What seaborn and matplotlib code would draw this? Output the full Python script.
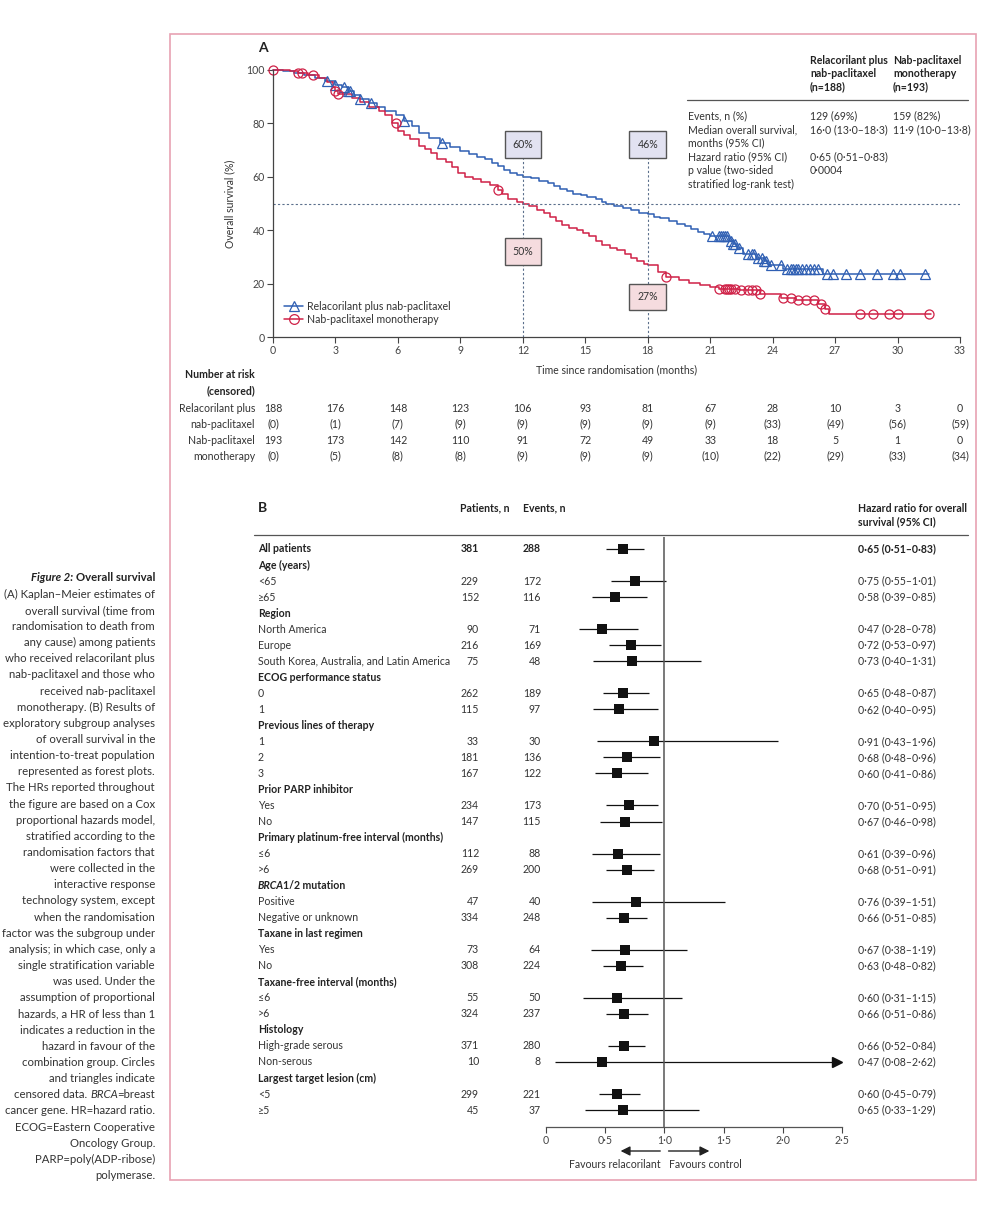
import numpy as np
import pandas as pd
import matplotlib
matplotlib.use("Agg")
import matplotlib.pyplot as plt
import matplotlib.transforms as mtransforms
from matplotlib.lines import Line2D
from matplotlib.patches import Rectangle
import seaborn as sns

# ---------------- Panel A: Kaplan-Meier ----------------
rel_t = [0, 0.5, 1.0, 1.5, 2.0, 2.5, 3.0, 3.3, 3.6, 3.9, 4.2, 4.6, 5.0, 5.4, 5.9, 6.3,
         6.7, 7.0, 7.5, 8.0, 8.5, 9.0, 9.4, 9.8, 10.2, 10.5, 10.8, 11.1, 11.4, 11.7, 12.0,
         12.4, 12.8, 13.2, 13.5, 13.8, 14.1, 14.4, 14.8, 15.1, 15.5, 15.8, 16.0, 16.4,
         16.8, 17.2, 17.6, 18.0, 18.3, 18.6, 19.0, 19.4, 19.8, 20.1, 20.4, 20.7, 21.0,
         21.9, 22.1, 22.3, 22.6, 23.2, 23.6, 23.8, 24.5, 26.4, 31.5]
rel_s = [100, 99.5, 99, 98, 97, 96, 94.5, 93.5, 92, 90.5, 89, 87.5, 86, 84.5, 83, 81,
         79, 76.5, 74.5, 72.5, 71, 69.5, 68.5, 67.5, 66.5, 65, 64, 62.5, 61.5, 60.5, 60,
         59.5, 58.5, 57.5, 56.5, 55.5, 54.5, 53.5, 53, 52.5, 51.5, 50.5, 50, 49,
         48.5, 47.5, 46.5, 46, 45, 44.5, 43.5, 42.5, 41.5, 40.5, 39.5, 38.5, 38,
         36, 35, 33.5, 31, 29.5, 28.5, 27, 25.6, 23.75, 23.75]
rel_cens = [2.6, 3.0, 3.4, 3.6, 3.7, 4.2, 4.7, 6.3, 8.1, 21.1, 21.4, 21.5, 21.6, 21.7,
            21.8, 22.0, 22.1, 22.2, 22.4, 22.8, 23.0, 23.1, 23.3, 23.5, 23.6, 23.7, 23.9,
            24.4, 24.7, 24.9, 25.0, 25.1, 25.2, 25.4, 25.6, 25.8, 26.0, 26.2, 26.6, 26.9,
            27.5, 28.2, 29.0, 29.8, 30.1, 31.3]

nab_t = [0, 0.8, 1.2, 1.7, 2.2, 2.6, 2.9, 3.0, 3.1, 3.8, 4.2, 4.6, 5.1, 5.4, 5.7, 6.0,
         6.3, 6.6, 7.0, 7.3, 7.6, 7.9, 8.3, 8.6, 8.9, 9.2, 9.6, 10.0, 10.4, 10.8, 11.0,
         11.3, 11.7, 12.0, 12.3, 12.7, 13.0, 13.3, 13.6, 13.9, 14.2, 14.6, 14.9, 15.2,
         15.5, 15.8, 16.2, 16.5, 16.9, 17.2, 17.5, 17.8, 18.0, 18.5, 18.9, 19.5, 20.0,
         20.5, 21.0, 21.4, 22.4, 23.4, 24.4, 25.1, 26.2, 26.5, 26.7, 31.6]
nab_s = [100, 99.5, 99, 98, 97, 95.5, 93.5, 92, 91, 89.5, 88, 86, 84.5, 83, 80, 77,
         75.5, 74, 71.5, 70.5, 69, 66.5, 65.5, 63.5, 61.5, 60, 59, 58, 57, 55, 53.5,
         51.5, 50.5, 50, 49, 47.5, 46.5, 45, 43.5, 42, 41, 40, 39, 38,
         36, 34.5, 33.5, 32.5, 31, 29.5, 28.5, 27.5, 27, 24.5, 22.5, 21.3, 20.3,
         19.5, 18.6, 18.1, 17.5, 16.25, 14.6, 13.75, 12.25, 10.6, 8.75, 8.75]
nab_cens = [0.0, 1.2, 1.4, 1.9, 3.0, 3.1, 5.9, 10.8, 18.9, 21.4, 21.7, 21.8, 21.9, 22.0,
            22.2, 22.5, 22.8, 23.0, 23.2, 23.4, 24.5, 24.9, 25.2, 25.6, 26.0, 26.3, 26.5,
            28.2, 28.8, 29.6, 30.0, 31.5]

risk_months = [0, 3, 6, 9, 12, 15, 18, 21, 24, 27, 30, 33]
rel_at_risk = [188, 176, 148, 123, 106, 93, 81, 67, 28, 10, 3, 0]
rel_censored = [0, 1, 7, 9, 9, 9, 9, 9, 33, 49, 56, 59]
nab_at_risk = [193, 173, 142, 110, 91, 72, 49, 33, 18, 5, 1, 0]
nab_censored = [0, 5, 8, 8, 9, 9, 9, 10, 22, 29, 33, 34]

landmark_months = [12, 18]
landmark_rel = [60, 46]
landmark_nab = [50, 27]

# ---------------- Panel B: forest plot ----------------
forest_labels = ["All patients", "Age (years)", "<65", "≥65", "Region", "North America", "Europe",
                 "South Korea, Australia, and Latin America", "ECOG performance status", "0", "1",
                 "Previous lines of therapy", "1", "2", "3", "Prior PARP inhibitor", "Yes", "No",
                 "Primary platinum-free interval (months)", "≤6", ">6", "BRCA1/2 mutation",
                 "Positive", "Negative or unknown", "Taxane in last regimen", "Yes", "No",
                 "Taxane-free interval (months)", "≤6", ">6", "Histology", "High-grade serous",
                 "Non-serous", "Largest target lesion (cm)", "<5", "≥5"]
forest_patients = [381, None, 229, 152, None, 90, 216, 75, None, 262, 115, None, 33, 181, 167,
                   None, 234, 147, None, 112, 269, None, 47, 334, None, 73, 308, None, 55, 324,
                   None, 371, 10, None, 299, 45]
forest_events = [288, None, 172, 116, None, 71, 169, 48, None, 189, 97, None, 30, 136, 122,
                 None, 173, 115, None, 88, 200, None, 40, 248, None, 64, 224, None, 50, 237,
                 None, 280, 8, None, 221, 37]
forest_hr = [0.65, None, 0.75, 0.58, None, 0.47, 0.72, 0.73, None, 0.65, 0.62, None, 0.91, 0.68,
             0.60, None, 0.70, 0.67, None, 0.61, 0.68, None, 0.76, 0.66, None, 0.67, 0.63, None,
             0.60, 0.66, None, 0.66, 0.47, None, 0.60, 0.65]
forest_lo = [0.51, None, 0.55, 0.39, None, 0.28, 0.53, 0.40, None, 0.48, 0.40, None, 0.43, 0.48,
             0.41, None, 0.51, 0.46, None, 0.39, 0.51, None, 0.39, 0.51, None, 0.38, 0.48, None,
             0.31, 0.51, None, 0.52, 0.08, None, 0.45, 0.33]
forest_hi = [0.83, None, 1.01, 0.85, None, 0.78, 0.97, 1.31, None, 0.87, 0.95, None, 1.96, 0.96,
             0.86, None, 0.95, 0.98, None, 0.96, 0.91, None, 1.51, 0.85, None, 1.19, 0.82, None,
             1.15, 0.86, None, 0.84, 2.62, None, 0.79, 1.29]
forest_ticks = [0, 0.5, 1.0, 1.5, 2.0, 2.5]

caption_lines = [
    "(A) Kaplan–Meier estimates of", "overall survival (time from", "randomisation to death from",
    "any cause) among patients", "who received relacorilant plus", "nab-paclitaxel and those who",
    "received nab-paclitaxel", "monotherapy. (B) Results of", "exploratory subgroup analyses",
    "of overall survival in the", "intention-to-treat population", "represented as forest plots.",
    "The HRs reported throughout", "the figure are based on a Cox", "proportional hazards model,",
    "stratified according to the", "randomisation factors that", "were collected in the",
    "interactive response", "technology system, except", "when the randomisation",
    "factor was the subgroup under", "analysis; in which case, only a",
    "single stratification variable", "was used. Under the", "assumption of proportional",
    "hazards, a HR of less than 1", "indicates a reduction in the", "hazard in favour of the",
    "combination group. Circles", "and triangles indicate", "censored data. |BRCA|=breast",
    "cancer gene. HR=hazard ratio.", "ECOG=Eastern Cooperative", "Oncology Group.",
    "PARP=poly(ADP-ribose)", "polymerase."]

BLUE = "#2f5fb3"
RED = "#cf2147"
TXT = "#333333"
FS = 7.6
CAP_FS = 8.2

sns.set_theme(style="ticks")
plt.rcParams["font.family"] = ["Lato", "DejaVu Sans"]
plt.rcParams["text.color"] = TXT
plt.rcParams["axes.labelcolor"] = TXT
plt.rcParams["xtick.color"] = "#444444"
plt.rcParams["ytick.color"] = "#444444"

W, H = 1000, 1206
fig = plt.figure(figsize=(W / 100, H / 100), dpi=100)


def fx(px):
    return px / W


def fy(py):
    return 1 - py / H


def rich(x, y, parts, ha="left", size=FS):
    """Draw text built from differently styled pieces on one line."""
    r = fig.canvas.get_renderer()
    arts = [fig.text(0, y, s, va="center", fontsize=size, **st) for s, st in parts]
    widths = []
    for a, (s, st) in zip(arts, parts):
        w = a.get_window_extent(r).width
        if st.get("fontstyle") == "italic" and not s.endswith(" "):
            w -= 0.12 * size
        widths.append(w / fig.bbox.width)
    x0 = x if ha == "left" else x - sum(widths)
    for a, w in zip(arts, widths):
        a.set_x(x0)
        x0 += w


# frame
fig.add_artist(Rectangle((fx(170), fy(1180)), fx(976) - fx(170), fy(34) - fy(1180),
                         transform=fig.transFigure, fill=False, ec="#e7a2b3", lw=1.2))

# ---------------- Panel A ----------------
ax = fig.add_axes([fx(273), fy(337), fx(960) - fx(273), fy(70) - fy(337)])
sns.lineplot(x=rel_t, y=rel_s, drawstyle="steps-post", color=BLUE, lw=1.1, ax=ax,
             estimator=None, clip_on=False)
sns.lineplot(x=nab_t, y=nab_s, drawstyle="steps-post", color=RED, lw=1.1, ax=ax,
             estimator=None, clip_on=False)


def surv_at(ts, ss, times):
    idx = np.searchsorted(ts, times, side="right") - 1
    return np.asarray(ss)[idx]


ax.plot(rel_cens, surv_at(rel_t, rel_s, rel_cens), ls="none", marker="^", mfc="none",
        mec=BLUE, ms=6.5, mew=0.9, clip_on=False)
ax.plot(nab_cens, surv_at(nab_t, nab_s, nab_cens), ls="none", marker="o", mfc="none",
        mec=RED, ms=6.5, mew=0.9, clip_on=False)

ax.axhline(50, color="#5b6f8c", lw=0.8, ls=(0, (2, 2)))
for m, r in zip(landmark_months, landmark_rel):
    ax.plot([m, m], [0, 67], color="#5b6f8c", lw=0.8, ls=(0, (2, 2)))
    ax.text(m, 72, f"{r}%", ha="center", va="center", fontsize=FS, zorder=5,
            bbox=dict(boxstyle="square,pad=0.75", fc="#e2e2f1", ec="#555555", lw=1))
for m, n, yb in zip(landmark_months, landmark_nab, [32, 15]):
    ax.text(m, yb, f"{n}%", ha="center", va="center", fontsize=FS, zorder=5,
            bbox=dict(boxstyle="square,pad=0.75", fc="#f5dcdf", ec="#555555", lw=1))

ax.set_xlim(0, 33)
ax.set_ylim(0, 100)
ax.set_xticks(risk_months)
ax.set_yticks([0, 20, 40, 60, 80, 100])
ax.tick_params(labelsize=FS, length=4, width=0.8, pad=2)
ax.set_xlabel("Time since randomisation (months)", fontsize=FS, labelpad=6)
ax.set_ylabel("Overall survival (%)", fontsize=FS, labelpad=8)
for s in ["top", "right"]:
    ax.spines[s].set_visible(False)
for s in ["left", "bottom"]:
    ax.spines[s].set_color("#444444")
    ax.spines[s].set_linewidth(0.9)

handles = [Line2D([], [], color=BLUE, lw=1.1, marker="^", mfc="none", ms=7, mew=0.9),
           Line2D([], [], color=RED, lw=1.1, marker="o", mfc="none", ms=7, mew=0.9)]
ax.legend(handles, ["Relacorilant plus nab-paclitaxel", "Nab-paclitaxel monotherapy"],
          loc="lower left", bbox_to_anchor=(0.01, 0.03), frameon=False, fontsize=FS,
          handlelength=1.8, handletextpad=0.4, labelspacing=0.2, borderaxespad=0)

fig.text(fx(258), fy(48), "A", fontsize=10, fontweight="bold", va="center", color="#222222")

# summary table
bold = dict(fontweight="bold", color="#222222")
for i, line in enumerate(["Relacorilant plus", "nab-paclitaxel", "(n=188)"]):
    fig.text(fx(810), fy(60 + 13.5 * i), line, fontsize=FS, va="center", **bold)
for i, line in enumerate(["Nab-paclitaxel", "monotherapy", "(n=193)"]):
    fig.text(fx(893), fy(60 + 13.5 * i), line, fontsize=FS, va="center", **bold)
fig.add_artist(Line2D([fx(687), fx(968)], [fy(100), fy(100)], color="#555555", lw=0.9))
tab_rows = [(116, "Events, n (%)", "129 (69%)", "159 (82%)"),
            (129.5, "Median overall survival,", "16·0 (13·0–18·3)", "11·9 (10·0–13·8)"),
            (143, "months (95% CI)", "", ""),
            (157, "Hazard ratio (95% CI)", "0·65 (0·51–0·83)", ""),
            (170.5, "p value (two-sided", "0·0004", ""),
            (184, "stratified log-rank test)", "", "")]
for yy, a, b, c in tab_rows:
    fig.text(fx(688), fy(yy), a, fontsize=FS, va="center")
    fig.text(fx(810), fy(yy), b, fontsize=FS, va="center")
    fig.text(fx(893), fy(yy), c, fontsize=FS, va="center")

# number at risk
tr = mtransforms.blended_transform_factory(ax.transData, fig.transFigure)
fig.text(fx(255), fy(375), "Number at risk", fontsize=FS, ha="right", va="center", **bold)
fig.text(fx(255), fy(391), "(censored)", fontsize=FS, ha="right", va="center", **bold)
for yy, lab in zip([408, 424, 440, 456],
                   ["Relacorilant plus", "nab-paclitaxel", "Nab-paclitaxel", "monotherapy"]):
    fig.text(fx(255), fy(yy), lab, fontsize=FS, ha="right", va="center")
for m, a, c, b, d in zip(risk_months, rel_at_risk, rel_censored, nab_at_risk, nab_censored):
    ax.text(m, fy(408), str(a), transform=tr, ha="center", va="center", fontsize=FS)
    ax.text(m, fy(424), f"({c})", transform=tr, ha="center", va="center", fontsize=FS)
    ax.text(m, fy(440), str(b), transform=tr, ha="center", va="center", fontsize=FS)
    ax.text(m, fy(456), f"({d})", transform=tr, ha="center", va="center", fontsize=FS)

# ---------------- Panel B ----------------
n_rows = len(forest_labels)
row_px = 16.03
top_row_px, axis_px, head_px = 549, 1127, 537
fax = fig.add_axes([fx(546), fy(axis_px), fx(842) - fx(546), fy(head_px) - fy(axis_px)])
fax.set_xlim(0, 2.5)
fax.set_ylim(n_rows - 1 + (axis_px - (top_row_px + row_px * (n_rows - 1))) / row_px,
             -(top_row_px - head_px) / row_px)

df = pd.DataFrame({"row": np.arange(n_rows), "hr": forest_hr, "lo": forest_lo,
                   "hi": forest_hi}).dropna()
xmax = fax.get_xlim()[1]
fax.hlines(df["row"], df["lo"], df["hi"].clip(upper=xmax - 0.04), color="#111111", lw=0.9)
over = df[df["hi"] > xmax]
fax.plot(np.full(len(over), xmax - 0.04), over["row"], ls="none", marker=">", ms=7,
         color="#111111", clip_on=False)
sns.scatterplot(data=df, x="hr", y="row", marker="s", color="#111111", s=42, linewidth=0,
                ax=fax, legend=False, zorder=3)
fax.axvline(1.0, color="#555555", lw=1.1)

fax.set_xticks(forest_ticks)
fax.set_xticklabels(["0" if t == 0 else f"{t:.1f}".replace(".", "·") for t in forest_ticks])
fax.set_yticks([])
fax.set_xlabel("")
fax.set_ylabel("")
fax.tick_params(axis="x", labelsize=FS, length=4, width=0.8, pad=2)
for s in ["top", "right", "left"]:
    fax.spines[s].set_visible(False)
fax.spines["bottom"].set_color("#555555")
fax.spines["bottom"].set_linewidth(0.9)
fax.patch.set_alpha(0)

ftr = mtransforms.blended_transform_factory(fig.transFigure, fax.transData)
fig.text(fx(258), fy(508), "B", fontsize=10, fontweight="bold", va="center", color="#222222")
fig.text(fx(460), fy(508), "Patients, n", fontsize=FS, va="center", **bold)
fig.text(fx(523), fy(508), "Events, n", fontsize=FS, va="center", **bold)
fig.text(fx(858), fy(508), "Hazard ratio for overall", fontsize=FS, va="center", **bold)
fig.text(fx(858), fy(522), "survival (95% CI)", fontsize=FS, va="center", **bold)
fig.add_artist(Line2D([fx(254), fx(968)], [fy(535), fy(535)], color="#555555", lw=0.9))

for i, (lab, p, e, h, lo, hi) in enumerate(zip(forest_labels, forest_patients, forest_events,
                                               forest_hr, forest_lo, forest_hi)):
    header = p is None
    st = bold if (header or i == 0) else {}
    if lab.startswith("BRCA"):
        rich(fx(258), fy(top_row_px + row_px * i),
             [("BRCA", dict(fontweight="bold", fontstyle="italic", color="#222222")),
              ("1/2 mutation", bold)])
    else:
        fax.text(fx(258), i, lab, transform=ftr, fontsize=FS, va="center", **st)
    if header:
        continue
    fax.text(fx(479), i, str(p), transform=ftr, fontsize=FS, va="center", ha="right", **st)
    fax.text(fx(541), i, str(e), transform=ftr, fontsize=FS, va="center", ha="right", **st)
    hr_txt = f"{h:.2f} ({lo:.2f}–{hi:.2f})".replace(".", "·")
    fax.text(fx(858), i, hr_txt, transform=ftr, fontsize=FS, va="center", **st)

atr = mtransforms.blended_transform_factory(fax.transData, fig.transFigure)
fax.annotate("", xy=(0.63, fy(1151)), xytext=(0.965, fy(1151)), xycoords=atr, textcoords=atr,
             arrowprops=dict(arrowstyle="-|>", color="#222222", lw=1.0, mutation_scale=14,
                             shrinkA=0, shrinkB=0))
fax.annotate("", xy=(1.38, fy(1151)), xytext=(1.035, fy(1151)), xycoords=atr, textcoords=atr,
             arrowprops=dict(arrowstyle="-|>", color="#222222", lw=1.0, mutation_scale=14,
                             shrinkA=0, shrinkB=0))
fax.text(0.965, fy(1165), "Favours relacorilant", transform=atr, ha="right", va="center",
         fontsize=FS)
fax.text(1.035, fy(1165), "Favours control", transform=atr, ha="left", va="center",
         fontsize=FS)

# ---------------- caption ----------------
cap_right, cap_top, cap_step = 155, 578, 16.15
rich(fx(cap_right), fy(cap_top),
     [("Figure 2: ", dict(fontweight="bold", fontstyle="italic", color="#222222")),
      ("Overall survival", dict(fontweight="bold", color="#222222"))],
     ha="right", size=CAP_FS)
for i, line in enumerate(caption_lines):
    yy = fy(cap_top + cap_step * (i + 1))
    if "|" in line:
        a, b, c = line.split("|")
        rich(fx(cap_right), yy, [(a, {}), (b, dict(fontstyle="italic")), (c, {})],
             ha="right", size=CAP_FS)
    else:
        fig.text(fx(cap_right), yy, line, fontsize=CAP_FS, ha="right", va="center")

fig.savefig("out.png", dpi=100)
